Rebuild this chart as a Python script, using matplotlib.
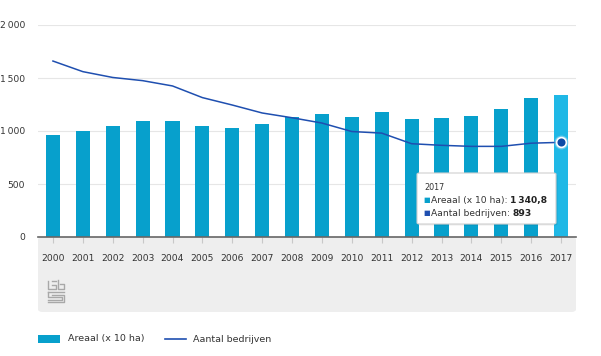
import matplotlib
matplotlib.use('Agg')
import matplotlib.pyplot as plt
import numpy as np
from matplotlib.patches import FancyBboxPatch, Rectangle
from matplotlib.lines import Line2D

# Data
years = ['2000', '2001', '2002', '2003', '2004', '2005', '2006', '2007', '2008',
         '2009', '2010', '2011', '2012', '2013', '2014', '2015', '2016', '2017']
areaal = [960, 1000, 1050, 1090, 1090, 1050, 1025, 1065, 1135,
          1160, 1130, 1180, 1115, 1120, 1140, 1205, 1310, 1340.8]
bedrijven = [1660, 1560, 1505, 1475, 1425, 1315, 1245, 1170, 1125,
             1075, 995, 980, 880, 865, 855, 855, 885, 893]
ytick_vals = [0, 500, 1000, 1500, 2000]
ytick_labels = ['0', '500', '1\u2009000', '1\u2009500', '2\u2009000']

W, H = 601, 356
BAR = '#07a0cc'
BAR_HL = '#1fb8e6'
LINE = '#1f4fb0'
TXT = '#333333'

plt.rcParams['font.family'] = ['DejaVu Sans']

fig = plt.figure(figsize=(W / 100, H / 100), dpi=100)


def px(x, y):
    # figure pixel (from top-left) -> figure fraction
    return x / W, 1 - y / H


# gray band under the x axis
bx, by = px(38, 312)
band = FancyBboxPatch((bx, by), 538 / W, 75 / H,
                      boxstyle='round,pad=0,rounding_size=0.008',
                      transform=fig.transFigure, facecolor='#eeeeee',
                      edgecolor='none', zorder=0)
fig.add_artist(band)

ax = fig.add_axes([38 / W, 1 - 237 / H, 538 / W, 212 / H])
ax.set_facecolor('none')
x = np.arange(len(years))

# Bars
colors = [BAR] * (len(years) - 1) + [BAR_HL]
ax.bar(x, areaal, width=0.47, color=colors, zorder=2)

# Line
ax.plot(x, bedrijven, color=LINE, lw=1.1, zorder=3)
ax.plot(x[-1], bedrijven[-1], 'o', ms=10, mfc='#9fd3f0', mec='none', alpha=0.6, zorder=4)
ax.plot(x[-1], bedrijven[-1], 'o', ms=7, mfc='#0d4aa6', mec='white', mew=1.2, zorder=5)

# Axes styling
ax.set_xlim(-0.5, len(years) - 0.5)
ax.set_ylim(0, 2000)
ax.set_yticks(ytick_vals)
ax.set_yticklabels(ytick_labels)
ax.set_xticks(x)
ax.set_xticklabels(years)
ax.grid(axis='y', color='#e6e6e6', lw=0.8, zorder=0)
ax.set_axisbelow(True)
for s in ['top', 'right', 'left']:
    ax.spines[s].set_visible(False)
ax.spines['bottom'].set_color('#666666')
ax.spines['bottom'].set_linewidth(1.2)
ax.spines['bottom'].set_zorder(6)
ax.tick_params(axis='y', length=0, pad=9.4, labelsize=6.6, labelcolor=TXT)
ax.tick_params(axis='x', length=4.5, color='#c8c8c8', pad=8, labelsize=6.6, labelcolor=TXT)

# Tooltip
tx, ty = px(417, 224)
tip = FancyBboxPatch((tx, ty), 139 / W, 51 / H,
                     boxstyle='round,pad=0,rounding_size=0.004',
                     transform=fig.transFigure, facecolor='white',
                     edgecolor='#d0d0d0', lw=0.8, zorder=10)
shadow = FancyBboxPatch((tx + 1.5 / W, ty - 1.5 / H), 139 / W, 51 / H,
                        boxstyle='round,pad=0,rounding_size=0.004',
                        transform=fig.transFigure, facecolor='#000000',
                        edgecolor='none', alpha=0.08, zorder=9)
fig.add_artist(shadow)
fig.add_artist(tip)

fig.text(*px(424, 188), years[-1], fontsize=5.8, color=TXT, va='center', zorder=11)
fig.text(*px(423, 200), '\u25a0', fontsize=5, color=BAR, va='center', zorder=11)
fig.text(*px(423, 213), '\u25a0', fontsize=5, color=LINE, va='center', zorder=11)
t1 = fig.text(*px(431, 200), 'Areaal (x 10 ha): ', fontsize=6.6, color=TXT, va='center', zorder=11)
t2 = fig.text(*px(431, 213), 'Aantal bedrijven: ', fontsize=6.6, color=TXT, va='center', zorder=11)
fig.canvas.draw()
r = fig.canvas.get_renderer()
e1 = t1.get_window_extent(r)
e2 = t2.get_window_extent(r)
v1 = '{:,.1f}'.format(areaal[-1]).replace(',', '\u2009').replace('.', ',')
fig.text(e1.x1 / W, 1 - 200 / H, v1, fontsize=6.6, color='#222222',
         fontweight='bold', va='center', zorder=11)
fig.text(e2.x1 / W, 1 - 213 / H, str(bedrijven[-1]), fontsize=6.6, color='#222222',
         fontweight='bold', va='center', zorder=11)

# CBS-like logo mark
logo = [
    [(48, 281), (48, 289), (56, 289), (56, 285), (52, 285)],
    [(52, 281), (56, 281)],
    [(58, 280), (58, 289), (64, 289), (64, 284), (60, 284)],
    [(48, 292), (64, 292)],
    [(48, 292), (48, 297), (62, 297), (62, 300), (48, 300)],
    [(52, 294.5), (64, 294.5), (64, 302), (48, 302)],
]
for seg in logo:
    xs = [p[0] / W for p in seg]
    ys = [1 - p[1] / H for p in seg]
    fig.add_artist(Line2D(xs, ys, color='#a8a8a8', lw=1.0, transform=fig.transFigure))

# Legend
lx, ly = px(38, 343)
fig.add_artist(Rectangle((lx, ly), 22 / W, 8 / H, transform=fig.transFigure,
                         facecolor=BAR, edgecolor='none'))
fig.text(*px(68, 339), 'Areaal (x 10 ha)', fontsize=6.8, color=TXT, va='center')
fig.add_artist(Line2D([165 / W, 186 / W], [1 - 339 / H, 1 - 339 / H],
                      color=LINE, lw=1.2, transform=fig.transFigure))
fig.text(*px(193, 339), 'Aantal bedrijven', fontsize=6.8, color=TXT, va='center')

fig.savefig('out.png', dpi=100)
